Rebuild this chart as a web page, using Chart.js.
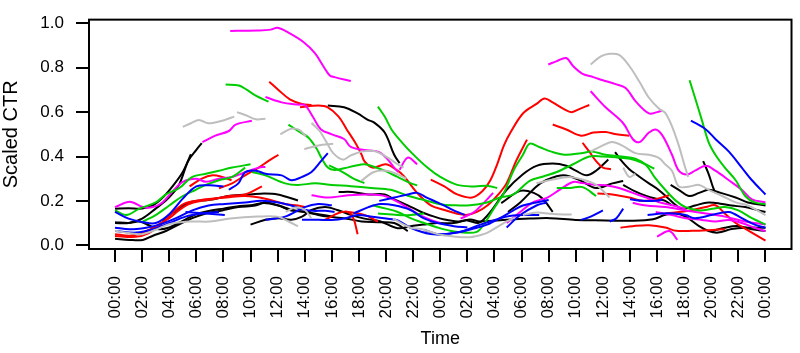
<!DOCTYPE html>
<html>
<head>
<meta charset="utf-8">
<script src="https://cdn.jsdelivr.net/npm/chart.js@4"></script>
<style>
  html, body { margin: 0; padding: 0; background: #fff; }
  #wrap { width: 800px; height: 353px; }
</style>
</head>
<body>
<div id="wrap"><canvas id="ctrChart" width="800" height="353"></canvas></div>
<script>
// hours since the first midnight, scaled CTR
const hourTicks = [0, 2, 4, 6, 8, 10, 12, 14, 16, 18, 20, 22, 24, 26, 28, 30, 32, 34, 36, 38, 40, 42, 44, 46, 48];
const tickLabels = ["00:00", "02:00", "04:00", "06:00", "08:00", "10:00", "12:00", "14:00", "16:00", "18:00", "20:00", "22:00",
  "00:00", "02:00", "04:00", "06:00", "08:00", "10:00", "12:00", "14:00", "16:00", "18:00", "20:00", "22:00", "00:00"];
const ctrTicks = [0, 0.2, 0.4, 0.6, 0.8, 1.0];
const ctrLabels = ["0.0", "0.2", "0.4", "0.6", "0.8", "1.0"];

const black = [
  [[0,.10],[1,.10],[2,.12],[3,.165],[3.9,.21],[4.7,.27],[5.4,.38],[6,.43],[6.4,.46]],
  [[0,.165],[1,.167],[2,.165],[2.8,.18],[3.6,.22],[4.3,.27],[5,.33],[5.6,.41]],
  [[0,.104],[1,.10],[1.8,.107],[2.5,.09],[3.2,.072],[4,.08],[5,.11],[6,.14],[7,.155],[8,.165],[9,.175],[10,.18],[11,.19],[12,.18],[13,.16],[14,.15],[15,.14],[16,.13]],
  [[0,.029],[1.07,.024],[2.05,.024],[2.8,.043],[3.76,.064],[4.7,.093],[5.7,.122],[6.7,.143],[7.9,.157],[9.1,.172],[10.35,.179],[11.1,.193],[12.05,.179],[13,.157],[14,.15],[15,.136],[15.7,.129],[17,.121],[18.2,.107],[19.4,.104],[20.6,.10],[21.6,.064]],
  [[3.5,.11],[4.2,.143],[5.5,.193],[7,.205],[8.5,.223],[10,.229],[11,.233],[12,.229],[13.5,.202]],
  [[15.7,.63],[16.9,.622],[17.9,.594],[18.66,.565],[19.1,.554],[19.9,.508],[20.6,.408],[21,.37]],
  [[10,.093],[11.1,.115],[12.07,.122],[13,.115],[13.8,.129],[14.5,.159],[15.5,.172],[16.4,.159],[17.4,.137],[18.4,.12],[19.6,.107],[20.86,.077],[22,.088],[23,.095],[23.8,.10],[25,.10],[26.2,.116],[26.9,.107],[28.4,.113],[30.6,.12],[32.1,.122],[34,.114],[36.2,.112],[38.2,.11],[39.7,.117],[40.6,.137],[41.4,.143],[42.1,.129],[43.1,.086],[43.8,.064],[44.5,.057],[45.5,.073],[46.5,.079],[48,.079]],
  [[16.5,.24],[17.5,.24],[18.7,.229],[19.9,.229],[20.6,.207],[21.6,.18],[22.6,.15],[23.5,.13],[24.3,.116],[25.25,.107],[26,.112],[26.8,.10],[27.2,.116],[27.7,.15],[28.9,.25],[30.1,.32],[31.1,.358],[32.3,.368],[33.3,.358],[34,.336],[34.8,.315],[35.5,.336],[36.4,.386]],
  [[29,.15],[29.9,.193],[31.1,.265],[31.8,.293],[33.1,.315],[34.3,.293],[35.5,.258],[36.7,.279],[37.5,.29]],
  [[28.5,.19],[29.9,.245],[30.9,.236],[31.6,.207],[32.3,.15]],
  [[36.9,.42],[37.3,.386],[37.95,.343],[38.7,.309],[39.4,.279],[40.1,.25],[40.9,.207],[41.4,.18],[41.9,.164],[42.8,.179],[43.8,.193],[44.8,.186],[45.5,.179],[46.5,.172],[47.5,.157],[48,.15]],
  [[37.5,.272],[38.3,.245],[39.2,.222],[40.1,.207],[40.6,.20],[41.1,.179]],
  [[41,.272],[41.6,.25],[42.35,.222],[43.1,.236],[43.8,.25],[44.7,.236],[45.8,.215],[46.7,.193],[48,.179]],
  [[43.4,.379],[43.8,.322],[44.1,.266],[44.3,.236]],
  [[44.1,.064],[45,.079],[46,.086],[47,.072],[48,.064]]
];

const red = [
  [[11.38,.737],[12.06,.70],[12.9,.658],[13.8,.637],[14.5,.632]],
  [[13.65,.622],[15,.63],[15.7,.622],[16.5,.58],[17.1,.522],[17.7,.465],[18.2,.408],[18.4,.379],[19,.35],[20,.365],[20.86,.336],[21.35,.309],[22.3,.236],[23.3,.18],[24.3,.159],[25.25,.142],[26,.137],[26.7,.15],[27.5,.18],[28.3,.23],[28.9,.28],[29.6,.38],[30.4,.476]],
  [[23.3,.296],[24.3,.265],[25.25,.229],[26.35,.215],[27.1,.243],[27.7,.293],[28.2,.365],[28.7,.45],[29.2,.51],[30.1,.594],[31.1,.637],[31.7,.662],[32.3,.644],[33.1,.615],[33.7,.60],[34.3,.615],[35,.632]],
  [[32.3,.544],[33.3,.522],[34.4,.494],[35.3,.508],[36.2,.51],[37,.50],[37.95,.494]],
  [[34.5,.462],[35,.422],[35.5,.379],[36,.35],[36.6,.343]],
  [[7.67,.257],[8.64,.279],[9.6,.315],[10.6,.35],[11.3,.379],[12.06,.408]],
  [[5.5,.265],[6.4,.30],[7.2,.315],[7.9,.308],[8.6,.293]],
  [[0,.05],[1.07,.043],[2.05,.057],[3,.086],[4,.122],[4.7,.157],[5.47,.186],[6.4,.20],[7.2,.207],[8.4,.222],[9.6,.229],[10.84,.265]],
  [[0,.042],[1.5,.038],[2.5,.055],[3.5,.10],[4.3,.15],[5.2,.19],[6.7,.207],[8.2,.215],[9.6,.222],[11.1,.21],[12.55,.186],[13.5,.179],[14,.172]],
  [[15.5,.115],[16.5,.145],[17.2,.15],[17.6,.12],[17.9,.05]],
  [[17.2,.15],[18.4,.137],[19.4,.107]],
  [[35.6,.233],[36.7,.229],[37.95,.215],[38.9,.20],[39.9,.207],[40.9,.225]],
  [[37.3,.079],[38.2,.086],[39.4,.09],[40.6,.08],[41.4,.065],[42.6,.065],[44.1,.069],[45,.072]],
  [[40.6,.143],[41.6,.15],[42.6,.159],[43.6,.172],[44.3,.18],[45,.143],[45.8,.10],[46.8,.064],[48,.021]]
];

const green = [
  [[8.16,.725],[9.14,.72],[9.74,.70],[10.35,.676],[11.33,.647]],
  [[12.8,.544],[13.5,.515],[14.26,.486],[14.87,.436],[15.24,.393],[15.7,.35],[16.2,.339],[16.9,.347],[17.7,.358],[18.4,.365],[19.1,.354],[19.9,.336],[20.85,.308],[21.8,.28],[22.3,.27]],
  [[19.4,.625],[19.9,.58],[20.4,.522],[20.86,.486],[21.8,.422],[23.05,.35],[24,.308],[25.25,.272],[26.5,.265],[27.45,.268],[28.2,.258]],
  [[15.8,.36],[16.8,.33],[17.6,.30],[18.4,.28]],
  [[10.1,.33],[11.1,.315],[12.55,.279],[13.5,.272],[14.75,.279],[16,.272],[17.4,.266],[18.9,.258],[20.35,.25],[21.6,.223],[22.6,.207],[24,.185],[25,.18],[26.2,.18],[27.45,.193],[28.4,.215],[29.4,.229],[30.6,.29],[31.6,.31],[32.6,.33],[33.8,.365],[35,.40],[36,.40],[37,.396],[38,.39],[38.9,.372],[39.8,.345]],
  [[19,.18],[20,.165],[20.86,.15],[21.8,.122],[22.8,.10],[23.8,.08],[24.8,.064],[25.7,.057],[26.7,.06],[27.2,.093],[27.95,.165],[28.7,.236],[29.4,.336],[30.1,.408],[30.6,.458],[31.3,.443],[32.2,.422],[33.2,.408],[34.4,.415],[35.2,.422],[36.2,.408],[37.4,.40],[38.4,.39],[39.2,.36],[39.9,.30],[40.6,.25],[41.4,.20],[42.1,.172],[43.1,.157],[44.1,.164],[45,.172],[46,.157],[47,.122],[48,.093]],
  [[19.4,.143],[20.86,.136],[21.8,.136],[22.8,.143]],
  [[32.6,.258],[33.6,.258],[34.5,.262],[35.5,.222]],
  [[0,.157],[0.83,.136],[1.8,.165],[3,.193],[3.76,.229],[4.75,.258],[5.7,.308],[6.7,.322],[7.67,.336],[8.64,.35],[10,.365]],
  [[2.05,.107],[3,.136],[4,.179],[5,.222],[5.96,.25],[6.7,.272],[7.67,.293],[8.64,.308],[9.6,.35]],
  [[42.4,.744],[42.8,.665],[43.3,.565],[43.8,.465],[44.3,.408],[45,.35],[45.8,.293],[46.5,.222],[47.2,.193],[48,.186]]
];

const blue = [
  [[0,.15],[1,.12],[2,.105],[3,.10],[4,.14],[5,.21],[6,.265],[7,.27],[8,.265]],
  [[8.4,.25],[9.1,.279],[9.6,.329],[10.4,.336],[11.1,.322],[12.3,.315],[13,.293],[13.8,.308],[14.5,.33],[15.2,.379],[15.7,.415]],
  [[0,.079],[1.07,.072],[2.3,.079],[3.27,.093],[4.5,.122],[5.7,.157],[6.9,.179],[8.1,.186],[9.6,.193],[10.8,.20],[12.05,.193],[13,.179],[14,.16],[14.6,.155],[15.5,.155],[16.2,.15]],
  [[0,.064],[1.56,.057],[2.8,.072],[4,.10],[5.2,.129],[6.4,.143],[7.67,.15]],
  [[5.2,.15],[6.7,.143],[8.1,.136]],
  [[11.1,.115],[12.55,.129],[14,.172],[15,.186],[16,.18]],
  [[13.8,.115],[15,.115],[16,.114],[17,.122],[17.9,.136],[19,.128],[20,.12],[20.86,.112],[21.8,.079],[23.3,.05],[24.3,.05],[25.7,.064],[26.96,.093],[27.7,.107],[28.9,.129],[30.1,.136],[31.3,.136]],
  [[17.6,.143],[18.7,.172],[19.6,.186],[20.6,.18],[21.8,.159],[22.8,.121],[23.8,.10],[25,.086],[26,.08]],
  [[19.5,.20],[20.6,.215],[21.6,.229],[22.3,.236],[23,.215],[23.8,.193],[24.5,.172],[25.25,.15],[25.8,.137]],
  [[22.8,.07],[23.8,.05],[25.25,.057],[26.7,.079],[27.45,.093],[28.4,.122],[29.4,.157],[30.1,.179],[31.1,.193],[32,.204]],
  [[28.9,.08],[29.9,.136],[31.1,.179],[31.85,.193]],
  [[34.4,.114],[35.1,.129],[36,.157]],
  [[36.5,.107],[37,.122],[37.5,.165]],
  [[38,.207],[39,.20],[39.9,.20],[40.4,.207]],
  [[39.3,.136],[40.4,.143],[41.3,.143],[42.1,.136],[42.8,.122],[44,.136],[45.3,.15],[46.25,.122],[47.2,.093],[48,.079]],
  [[42.5,.562],[43.6,.522],[44.3,.479],[45.3,.422],[46.25,.35],[47,.293],[48,.229]]
];

const magenta = [
  [[8.5,.966],[9.5,.967],[10.5,.968],[11.5,.972],[12,.98],[12.8,.958],[13.9,.916],[14.75,.866],[15.36,.808],[15.85,.765],[16.2,.758],[17.4,.74]],
  [[11.1,.668],[12.3,.644],[13.5,.634],[14,.632],[14.6,.579],[15.2,.522],[16,.50],[16.9,.479],[17.4,.443],[18.4,.429],[19.4,.422],[20,.395],[20.6,.35],[20.9,.33]],
  [[21,.34],[21.6,.395],[22.3,.365]],
  [[0,.172],[1.1,.196],[2.05,.172],[2.8,.172],[3.5,.193],[4.25,.243],[5,.286],[6,.30],[6.7,.286],[7.67,.30],[8.65,.308],[9.6,.329],[10.6,.35],[11.1,.353]],
  [[6.45,.465],[7.4,.494],[8.4,.515],[8.9,.544],[10.1,.561]],
  [[14.5,.225],[15.7,.215],[17.2,.225],[18.66,.229],[19.9,.222],[21.35,.179],[22.3,.143],[23.3,.114],[24,.10]],
  [[25.5,.12],[26.5,.15],[27.2,.19],[27.9,.236]],
  [[28.9,.10],[29.9,.15],[30.9,.195],[31.9,.215],[32.8,.25],[33.8,.285],[34.5,.28],[35.5,.272],[36.2,.27],[37.2,.258],[38.2,.236],[39.2,.215],[40.1,.195],[41.1,.18],[42.1,.165]],
  [[38.2,.19],[39.2,.179],[40.6,.172],[42.1,.157],[43.6,.143],[45,.129],[46.5,.107],[48,.093]],
  [[40,.039],[40.9,.064],[41.5,.024]],
  [[39.9,.15],[41.1,.136],[42.1,.122],[43.3,.114],[44.3,.107],[45.3,.114],[46.25,.10],[47.2,.079],[48,.064]],
  [[31.97,.815],[32.6,.83],[33.3,.844],[33.8,.808],[34.5,.773],[35.3,.758],[36,.744],[37,.725],[37.7,.708],[38.4,.65],[39.4,.594],[40,.60],[40.4,.608]],
  [[35.1,.694],[36.2,.622],[37.5,.55],[38.2,.479],[38.7,.465],[39.4,.508],[39.9,.522],[40.4,.494],[41.1,.408],[41.6,.336],[42.2,.319],[42.8,.336],[43.6,.358],[44.3,.336],[45.3,.293],[46.25,.25],[47,.207],[48,.193]]
];

const gray = [
  [[5,.534],[5.6,.55],[6.2,.565],[6.9,.55],[8.1,.565],[8.8,.58]],
  [[9,.60],[9.7,.585],[10.4,.568],[11.1,.57]],
  [[12.2,.50],[13,.525],[13.6,.52],[14.1,.49]],
  [[13.97,.433],[15,.45],[16.1,.458]],
  [[14.5,.551],[15.1,.515],[15.6,.465],[16.1,.415],[16.8,.386],[17.4,.405],[18.2,.422],[19.1,.425],[20,.40],[20.85,.365],[21.3,.35]],
  [[18.17,.29],[19.1,.33],[20,.336],[20.85,.32],[21.5,.30]],
  [[0,.065],[1,.055],[2,.05],[3,.07],[4,.095],[5.5,.107],[7,.107],[8.5,.12],[10.5,.129],[12,.129],[12.8,.107],[13.5,.086]],
  [[12.6,.15],[13.3,.17],[14,.16],[14.5,.12]],
  [[35.1,.815],[35.85,.851],[36.5,.863],[37.2,.858],[37.95,.808],[38.7,.737],[39.4,.665],[40.15,.615],[40.6,.597],[41.1,.536],[41.6,.45],[42,.365],[42.3,.308]],
  [[35.1,.422],[36,.45],[36.7,.465],[37.4,.45],[38.4,.415],[39.4,.408],[40.15,.393],[40.6,.365],[41.1,.336],[41.6,.265],[42.4,.265],[43.1,.272],[43.8,.25],[44.8,.222],[45.8,.193],[46.7,.179],[48,.136]],
  [[37.5,.35],[37.95,.308],[38.4,.322]],
  [[31.1,.279],[32.3,.296],[33.5,.308],[34.5,.296],[35.5,.272],[36.5,.215]],
  [[30.1,.136],[31.1,.147],[32.1,.142],[33.1,.139],[33.7,.139]],
  [[20.5,.12],[21.8,.079],[22.6,.073],[23.8,.05],[25,.039],[26.2,.036],[27.2,.05],[27.7,.064],[28.9,.107],[29.5,.125]]
];

const groups = [
  [gray, "#BEBEBE"],
  [blue, "#0000FF"],
  [green, "#00CD00"],
  [magenta, "#FF00FF"],
  [red, "#FF0000"],
  [black, "#000000"]
];

const datasets = [];
groups.forEach(([segs, color]) => {
  segs.forEach((seg) => {
    datasets.push({
      data: seg.map(([h, v]) => ({ x: h, y: v })),
      borderColor: color,
      borderWidth: 2,
      pointRadius: 0,
      tension: 0.35,
      fill: false
    });
  });
});

const boxPlugin = {
  id: "box",
  afterDraw(chart) {
    const { ctx, chartArea: a } = chart;
    ctx.save();
    ctx.strokeStyle = "#000";
    ctx.lineWidth = 2;
    ctx.strokeRect(a.left, a.top, a.right - a.left, a.bottom - a.top);
    ctx.restore();
  }
};

Chart.defaults.font.family = "'Liberation Sans', Arial, sans-serif";
Chart.defaults.color = "#000";

new Chart(document.getElementById("ctrChart").getContext("2d"), {
  type: "line",
  data: { datasets: datasets },
  options: {
    responsive: false,
    animation: false,
    layout: { padding: { top: 8, right: 3, left: 0, bottom: 0 } },
    plugins: { legend: { display: false }, tooltip: { enabled: false } },
    scales: {
      x: {
        type: "linear",
        min: -1.92,
        max: 49.92,
        afterBuildTicks: (s) => { s.ticks = hourTicks.map((v) => ({ value: v })); },
        afterFit: (s) => { s.height = 104; },
        ticks: {
          autoSkip: false,
          maxRotation: 90,
          minRotation: 90,
          padding: 14,
          font: { size: 17 },
          callback: (v, i) => tickLabels[i]
        },
        grid: { drawOnChartArea: false, drawTicks: true, tickLength: 13, color: "#000", lineWidth: 2 },
        border: { display: false },
        title: { display: true, text: "Time", font: { size: 18, lineHeight: 1 }, padding: { top: 0, bottom: 4.5 } }
      },
      y: {
        min: -0.017,
        max: 1.017,
        afterBuildTicks: (s) => { s.ticks = ctrTicks.map((v) => ({ value: v })); },
        afterFit: (s) => { s.width = 89; },
        ticks: {
          padding: 12,
          font: { size: 17, lineHeight: 0.9 },
          callback: (v, i) => ctrLabels[i]
        },
        grid: { drawOnChartArea: false, drawTicks: true, tickLength: 13, color: "#000", lineWidth: 2 },
        border: { display: false },
        title: { display: true, text: "Scaled CTR", font: { size: 20, lineHeight: 1 }, padding: { top: 1, bottom: 0 } }
      }
    }
  },
  plugins: [boxPlugin]
});
</script>
</body>
</html>
